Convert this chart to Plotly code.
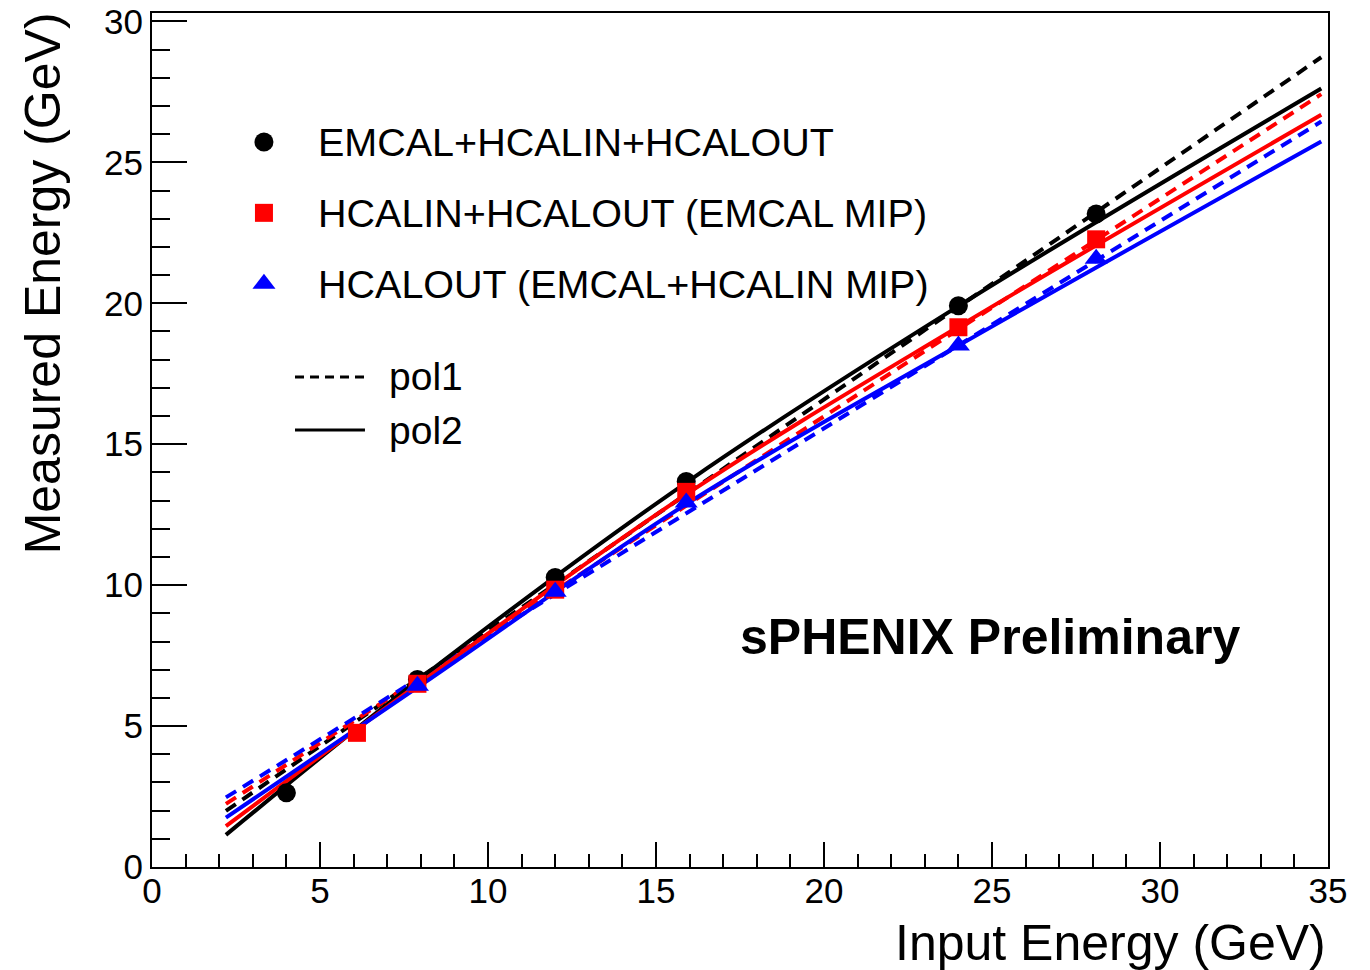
import plotly.graph_objects as go

# ---------------- data ----------------
x_black = [4.0, 7.9, 12.0, 15.9, 24.0, 28.1]
y_black = [2.63, 6.65, 10.27, 13.68, 19.91, 23.17]

x_red = [6.1, 7.9, 12.0, 15.9, 24.0, 28.1]
y_red = [4.76, 6.50, 9.84, 13.31, 19.15, 22.27]

x_blue = [7.9, 12.0, 15.9, 24.0, 28.1]
y_blue = [6.43, 9.77, 12.93, 18.50, 21.58]

# pol1 fit lines (end points)
pol1_x = [2.2, 34.8]
pol1_black = [1.99, 28.73]
pol1_red = [2.24, 27.42]
pol1_blue = [2.47, 26.45]

# pol2 fit curves
pol2_x = [2.2, 8.0, 16.0, 24.0, 34.8]
pol2_black = [1.14, 6.70, 13.72, 19.90, 27.62]
pol2_red = [1.45, 6.55, 13.30, 19.17, 26.69]
pol2_blue = [1.75, 6.45, 12.95, 18.50, 25.74]

legend_labels = ["EMCAL+HCALIN+HCALOUT",
                 "HCALIN+HCALOUT (EMCAL MIP)",
                 "HCALOUT (EMCAL+HCALIN MIP)"]
fit_labels = ["pol1", "pol2"]

x_title = "Input Energy (GeV)"
y_title = "Measured Energy (GeV)"
watermark = "sPHENIX Preliminary"

# ---------------- styling ----------------
FONT = "Liberation Sans, Arial, Helvetica, sans-serif"
BLACK, RED, BLUE = "#000000", "#ff0000", "#0000ff"
LW = 4
DASH = "12px,8px"

fig = go.Figure()

for xs, ys, col in [(pol1_x, pol1_black, BLACK), (pol1_x, pol1_red, RED), (pol1_x, pol1_blue, BLUE)]:
    fig.add_trace(go.Scatter(x=xs, y=ys, mode="lines",
                             line=dict(color=col, width=LW, dash=DASH),
                             showlegend=False, hoverinfo="skip"))
for ys, col in [(pol2_black, BLACK), (pol2_red, RED), (pol2_blue, BLUE)]:
    fig.add_trace(go.Scatter(x=pol2_x, y=ys, mode="lines",
                             line=dict(color=col, width=LW, shape="spline", smoothing=1.0),
                             showlegend=False, hoverinfo="skip"))

fig.add_trace(go.Scatter(x=x_black, y=y_black, mode="markers",
                         marker=dict(symbol="circle", size=19, color=BLACK),
                         showlegend=False))
fig.add_trace(go.Scatter(x=x_red, y=y_red, mode="markers",
                         marker=dict(symbol="square", size=18, color=RED),
                         showlegend=False))
fig.add_trace(go.Scatter(x=x_blue, y=y_blue, mode="markers",
                         marker=dict(symbol="triangle-up", size=20, color=BLUE),
                         showlegend=False))

# ---------------- legend (drawn on an overlay axis in plot-fraction units) ----------------
leg_marker_x = 0.0952
leg_rows_y = [0.849, 0.766, 0.683]
leg_text_x = 0.1395
symbols = [("circle", 19, BLACK), ("square", 18, RED), ("triangle-up", 20, BLUE)]
for (sym, sz, col), yy, lab in zip(symbols, leg_rows_y, legend_labels):
    fig.add_trace(go.Scatter(x=[leg_marker_x], y=[yy], xaxis="x2", yaxis="y2",
                             mode="markers", marker=dict(symbol=sym, size=sz, color=col),
                             showlegend=False, hoverinfo="skip"))
    fig.add_annotation(x=leg_text_x, y=yy, xref="paper", yref="paper",
                       text=lab, showarrow=False, xanchor="left", yanchor="middle",
                       font=dict(family=FONT, size=39.5, color="black"))

fit_rows_y = [0.5738, 0.5117]
for yy, dash, lab in zip(fit_rows_y, ["9px,6px", "solid"], fit_labels):
    fig.add_trace(go.Scatter(x=[0.1216, 0.1811], y=[yy, yy], xaxis="x2", yaxis="y2",
                             mode="lines", line=dict(color=BLACK, width=3, dash=dash),
                             showlegend=False, hoverinfo="skip"))
    fig.add_annotation(x=0.1995, y=yy, xref="paper", yref="paper",
                       text=lab, showarrow=False, xanchor="left", yanchor="middle",
                       font=dict(family=FONT, size=39, color="black"))

fig.add_annotation(x=0.7126, y=0.2693, xref="paper", yref="paper", text=watermark,
                   showarrow=False, xanchor="center", yanchor="middle",
                   font=dict(family=FONT, size=50, color="black", weight="bold"))

# axis titles
fig.add_annotation(x=1.0, y=-0.089, xref="paper", yref="paper", text=x_title,
                   showarrow=False, xanchor="right", yanchor="middle",
                   font=dict(family=FONT, size=50, color="black"))
fig.add_annotation(x=-0.093, y=0.683, xref="paper", yref="paper", text=y_title,
                   showarrow=False, xanchor="center", yanchor="middle", textangle=-90,
                   font=dict(family=FONT, size=50, color="black"))

axis_common = dict(showgrid=False, zeroline=False, showline=True, linewidth=2,
                   linecolor="black", mirror=True, ticks="inside", tickwidth=2,
                   tickcolor="black", automargin=False,
                   tickfont=dict(family=FONT, size=35, color="black"))

fig.update_layout(
    width=1370, height=970,
    margin=dict(l=152, r=42, t=13, b=103, autoexpand=False),
    paper_bgcolor="white", plot_bgcolor="white",
    xaxis=dict(range=[0, 35], tick0=0, dtick=5, ticklen=25, ticklabelstandoff=-8,
               minor=dict(ticks="inside", ticklen=13, dtick=1, tickwidth=2, tickcolor="black"),
               **axis_common),
    yaxis=dict(range=[0, 30.3], tick0=0, dtick=5, ticklen=35,
               minor=dict(ticks="inside", ticklen=18, dtick=1, tickwidth=2, tickcolor="black"),
               **axis_common),
    xaxis2=dict(overlaying="x", range=[0, 1], visible=False, anchor="y2"),
    yaxis2=dict(overlaying="y", range=[0, 1], visible=False, anchor="x2"),
    showlegend=False,
)

fig.write_html("out.html")
